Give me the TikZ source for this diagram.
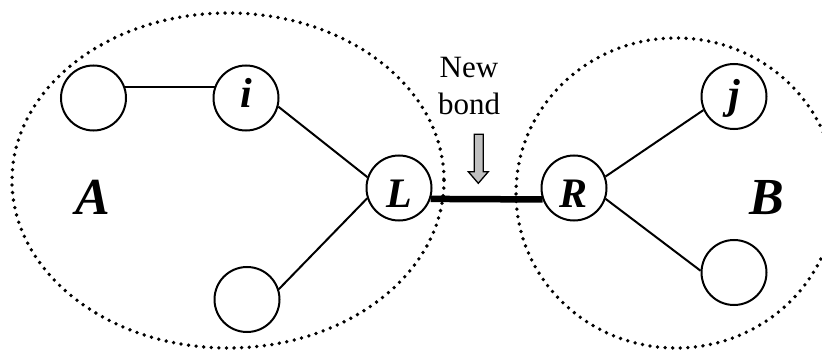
\documentclass[tikz,border=0pt]{standalone}
\usepackage{fontspec}
\setmainfont{Liberation Serif}
\usepackage{xcolor}
\definecolor{arrowgray}{RGB}{192, 192, 192}
\usepackage{tikz}

\begin{document}
\begin{tikzpicture}[x=1pt, y=-1pt,
    atom/.style={circle, draw, line width=2pt, minimum size=65pt, inner sep=0pt, text depth=0pt,
        font=\fontsize{42}{42}\selectfont\bfseries\itshape},
    link/.style={line width=2pt},
    region/.style={line width=3.8pt, line cap=round, dash pattern=on 0pt off 7.6pt}]
    \useasboundingbox (0,0) rectangle (822,350);
    \draw[region] (228,180.5) ellipse (216 and 167.5);
    \draw[region] (676,193) ellipse (160 and 155);
    \node[atom, text height=20pt] (a1) at (93.5,98) {};
    \node[atom, text height=20pt] (i) at (246,98) {i};
    \node[atom, text height=39pt] (L) at (399,188) {L};
    \node[atom, text height=20pt] (a2) at (247,299.5) {};
    \node[atom, text height=39pt] (R) at (574,188) {R};
    \node[atom, text height=25pt] (j) at (734,96.5) {j};
    \node[atom, text height=20pt] (b2) at (734,272.5) {};
    \node[font=\fontsize{52}{52}\selectfont\bfseries\itshape] (A) at (93,197) {A};
    \node[font=\fontsize{52}{52}\selectfont\bfseries\itshape] (B) at (767,197.5) {B};
    \node[align=center, anchor=north, inner sep=0pt, font=\fontsize{31}{37}\selectfont] (newbond) at (469,57) {New\\bond};
    \draw[link] (a1.20) -- (i.160);
    \draw[link] (i.-15) -- (L.161);
    \draw[link] (a2.18) -- (L.-162);
    \draw[link] (R.20.5) -- (j.-156);
    \draw[link] (R.-19.5) -- (b2.177);
    \draw[line width=6.5pt] (L.-19.5) -- (R.-160.5);
    \filldraw[fill=arrowgray, line width=1.3pt, line join=miter] (474.3,134.3) -- (483.3,134.3) -- (483.3,171.7)
        -- (488.3,171.7) -- (478.3,183.3) -- (468.3,171.7) -- (474.3,171.7) -- cycle;
\end{tikzpicture}
\end{document}
